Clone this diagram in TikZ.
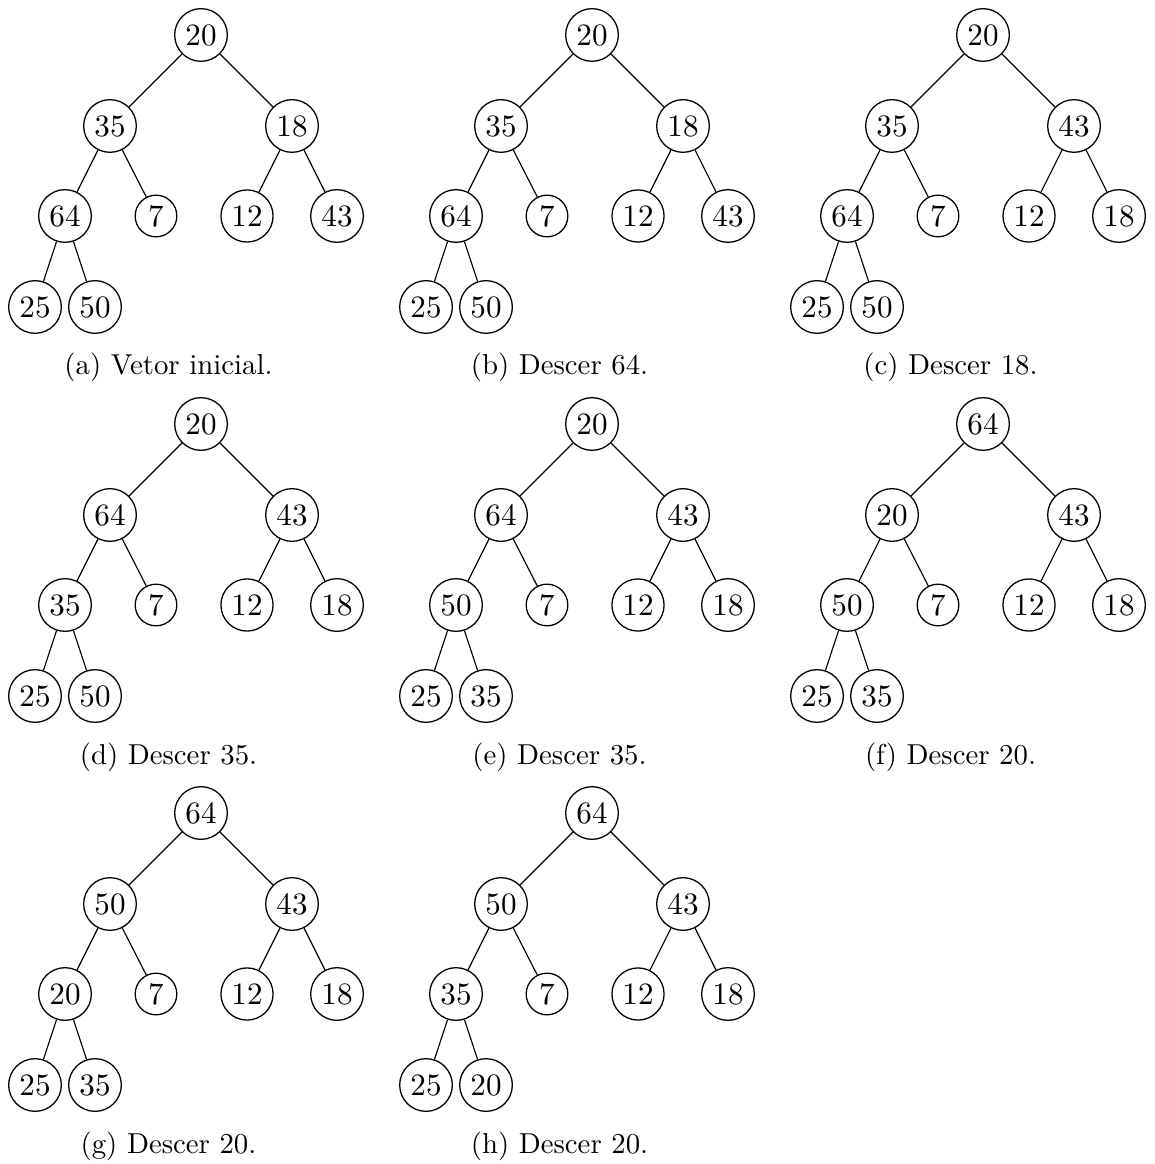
\documentclass[tikz,border=0pt]{standalone}
\tikzset{
  hnode/.style={draw, circle, inner sep=1.85pt, line width=0.45pt, font=\fontsize{10.8}{13}\selectfont},
  hedge/.style={line width=0.4pt},
  hcap/.style={anchor=base, inner sep=0pt}
}
\begin{document}
\begin{tikzpicture}[x=0.347222pt, y=-0.347222pt]
\useasboundingbox (0,0) rectangle (1154,1164);
\foreach \t/\ox/\oy/\vals/\cap in {
  a/0/0/{20,35,18,64,7,12,43,25,50}/{(a) Vetor inicial.},
  b/391/0/{20,35,18,64,7,12,43,25,50}/{(b) Descer 64.},
  c/782/0/{20,35,43,64,7,12,18,25,50}/{(c) Descer 18.},
  d/0/389/{20,64,43,35,7,12,18,25,50}/{(d) Descer 35.},
  e/391/389/{20,64,43,50,7,12,18,25,35}/{(e) Descer 35.},
  f/782/389/{64,20,43,50,7,12,18,25,35}/{(f) Descer 20.},
  g/0/778/{64,50,43,20,7,12,18,25,35}/{(g) Descer 20.},
  h/391/778/{64,50,43,35,7,12,18,25,20}/{(h) Descer 20.}}
{
  \begin{scope}[shift={(\ox,\oy)}]
    \coordinate (P1) at (201,35);
    \coordinate (P2) at (110,126);
    \coordinate (P3) at (292,126);
    \coordinate (P4) at (65,216);
    \coordinate (P5) at (156,216);
    \coordinate (P6) at (247,216);
    \coordinate (P7) at (337,216);
    \coordinate (P8) at (35,307);
    \coordinate (P9) at (95,307);
    \foreach \v [count=\i] in \vals {
      \node[hnode] (\t\i) at (P\i) {\v};
    }
    \draw[hedge] (\t1) -- (\t2) (\t1) -- (\t3)
                 (\t2) -- (\t4) (\t2) -- (\t5)
                 (\t3) -- (\t6) (\t3) -- (\t7)
                 (\t4) -- (\t8) (\t4) -- (\t9);
    \node[hcap] (cap\t) at (168.5,375) {\cap};
  \end{scope}
}
\end{tikzpicture}
\end{document}
